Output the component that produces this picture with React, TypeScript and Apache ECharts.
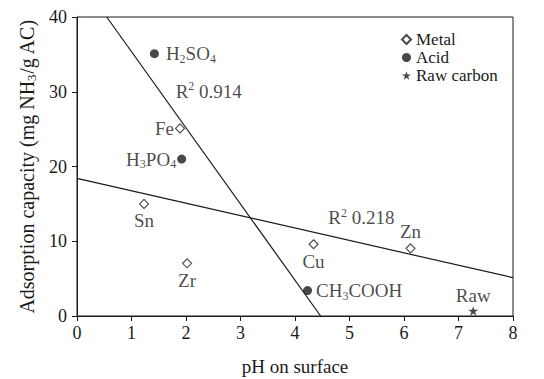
import React, { useEffect, useRef } from "react";
import * as echarts from "echarts";

const metalNames = ["Fe", "Sn", "Zr", "Cu", "Zn"];
const metalX = [1.89, 1.23, 2.02, 4.34, 6.12];
const metalY = [25.1, 15.0, 7.05, 9.6, 9.05];

const acidNames = ["H2SO4", "H3PO4", "CH3COOH"];
const acidX = [1.42, 1.92, 4.23];
const acidY = [35.1, 21.0, 3.4];

const rawNames = ["Raw"];
const rawX = [7.27];
const rawY = [0.67];

const fitSteepX = [0.545, 4.47];
const fitSteepY = [40, 0];
const fitFlatX = [0, 8];
const fitFlatY = [18.4, 5.13];

const r2Labels = ["R2 0.914", "R2 0.218"];
const r2X = [1.81, 4.61];
const r2Y = [30.1, 13.15];

const xTicks = [0, 1, 2, 3, 4, 5, 6, 7, 8];
const yTicks = [0, 10, 20, 30, 40];

const FONT = "'Liberation Serif', 'Times New Roman', serif";
const INK = "#1a1a1a";

const labelPlacement: Record<string, { position: string; distance: number }> = {
  Fe: { position: "left", distance: 1 },
  Sn: { position: "bottom", distance: 1 },
  Zr: { position: "bottom", distance: 1 },
  Cu: { position: "bottom", distance: 1 },
  Zn: { position: "top", distance: 1 },
  H2SO4: { position: "right", distance: 7 },
  H3PO4: { position: "left", distance: 1 },
  CH3COOH: { position: "right", distance: 4 },
  Raw: { position: "top", distance: 0 },
};

const mkRich = (size: number) => ({
  n: { fontFamily: FONT, fontSize: size, color: INK, lineHeight: size + 3 },
  s: {
    fontFamily: FONT,
    fontSize: Math.round(size * 0.65),
    color: INK,
    lineHeight: Math.round(size * 0.65) + 1,
    verticalAlign: "bottom",
  },
  p: {
    fontFamily: FONT,
    fontSize: Math.round(size * 0.65),
    color: INK,
    lineHeight: Math.round(size * 0.65) + 1,
    verticalAlign: "top",
  },
});

const labelRich = mkRich(19);
const nameRich = mkRich(20);

// chemical formula: digits become subscripts
const chem = (s: string) =>
  s
    .split(/(\d+)/)
    .filter((t) => t.length > 0)
    .map((t) => (/^\d+$/.test(t) ? `{s|${t}}` : `{n|${t}}`))
    .join("");

// "R2 0.914" -> R with superscript 2
const r2 = (s: string) => `{n|R}{p|${s.slice(1, 2)}}{n|${s.slice(2)}}`;

const pts = (names: string[], xs: number[], ys: number[]) =>
  names.map((name, i) => ({
    name,
    value: [xs[i], ys[i]],
    label: {
      show: true,
      position: labelPlacement[name].position,
      distance: labelPlacement[name].distance,
      formatter: chem(name),
      fontFamily: FONT,
      fontSize: 19,
      color: INK,
      rich: labelRich,
    },
  }));

const STAR =
  "path://M100,0 L122.5,69.1 L195.1,69.1 L136.3,111.8 L158.8,180.9 L100,138.2 L41.2,180.9 L63.7,111.8 L4.9,69.1 L77.5,69.1 Z";

export default function App() {
  const ref = useRef<HTMLDivElement>(null);
  useEffect(() => {
    if (!ref.current) return;
    const chart = echarts.init(ref.current, undefined, { renderer: "svg" });
    chart.setOption({
      animation: false,
      backgroundColor: "#ffffff",
      textStyle: { fontFamily: FONT, color: INK },
      grid: {
        left: 77,
        right: 31,
        top: 17,
        bottom: 63,
        show: true,
        borderColor: INK,
        borderWidth: 1,
        containLabel: false,
        outerBoundsMode: "none",
      },
      legend: {
        data: ["Metal", "Acid", "Raw carbon"],
        orient: "vertical",
        left: 401,
        top: 31,
        padding: 0,
        itemGap: 1,
        itemWidth: 9,
        itemHeight: 9,
        textStyle: { fontFamily: FONT, fontSize: 17, color: INK },
      },
      xAxis: {
        type: "value",
        min: xTicks[0],
        max: xTicks[xTicks.length - 1],
        interval: 1,
        name: "pH on surface",
        nameLocation: "middle",
        nameGap: 41,
        nameTextStyle: { fontFamily: FONT, fontSize: 19, color: INK },
        axisLine: { show: true, onZero: false, lineStyle: { color: INK, width: 1 } },
        axisTick: { show: true, inside: false, length: 5, lineStyle: { color: INK } },
        axisLabel: { fontFamily: FONT, fontSize: 18, color: INK, margin: 8 },
        splitLine: { show: false },
      },
      yAxis: {
        type: "value",
        min: yTicks[0],
        max: yTicks[yTicks.length - 1],
        interval: 10,
        name: "{n|Adsorption capacity (mg NH}{s|3}{n|/g AC)}",
        nameLocation: "middle",
        nameGap: 39,
        nameTextStyle: { fontFamily: FONT, fontSize: 20, color: INK, rich: nameRich },
        axisLine: { show: true, onZero: false, lineStyle: { color: INK, width: 1 } },
        axisTick: { show: true, inside: false, length: 5, lineStyle: { color: INK } },
        axisLabel: { fontFamily: FONT, fontSize: 18, color: INK, margin: 10 },
        splitLine: { show: false },
      },
      series: [
        {
          name: "Fit steep",
          type: "line",
          data: fitSteepX.map((x, i) => [x, fitSteepY[i]]),
          showSymbol: false,
          symbol: "none",
          lineStyle: { color: INK, width: 1.2 },
          silent: true,
          z: 1,
        },
        {
          name: "Fit flat",
          type: "line",
          data: fitFlatX.map((x, i) => [x, fitFlatY[i]]),
          showSymbol: false,
          symbol: "none",
          lineStyle: { color: INK, width: 1.2 },
          silent: true,
          z: 1,
        },
        {
          name: "Metal",
          type: "scatter",
          symbol: "diamond",
          symbolSize: 9,
          itemStyle: { color: "#ffffff", borderColor: INK, borderWidth: 1.1 },
          data: pts(metalNames, metalX, metalY),
          z: 3,
        },
        {
          name: "Acid",
          type: "scatter",
          symbol: "circle",
          symbolSize: 9,
          itemStyle: { color: INK },
          data: pts(acidNames, acidX, acidY),
          z: 3,
        },
        {
          name: "Raw carbon",
          type: "scatter",
          symbol: STAR,
          symbolKeepAspect: true,
          symbolSize: 10,
          itemStyle: { color: INK },
          data: pts(rawNames, rawX, rawY),
          z: 3,
        },
        {
          name: "R2",
          type: "scatter",
          symbolSize: 0,
          silent: true,
          data: r2Labels.map((t, i) => ({
            name: t,
            value: [r2X[i], r2Y[i]],
            label: {
              show: true,
              position: "right",
              distance: 0,
              formatter: r2(t),
              fontFamily: FONT,
              fontSize: 19,
              color: INK,
              rich: labelRich,
            },
          })),
        },
      ],
    });
    return () => chart.dispose();
  }, []);
  return (
    <div
      ref={ref}
      style={{ position: "fixed", left: 0, top: 0, width: 544, height: 379 }}
    />
  );
}
